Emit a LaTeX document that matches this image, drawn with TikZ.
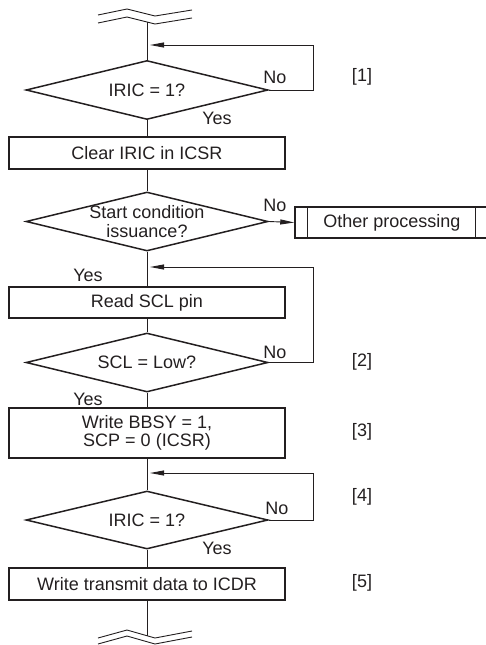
\documentclass[tikz,border=0pt]{standalone}
\usepackage{fontspec}
\setmainfont{Liberation Sans}
\usetikzlibrary{shapes.geometric,arrows.meta}
\definecolor{ink}{HTML}{231F20}
\tikzset{
  every node/.style={font=\fontsize{18}{18.5}\selectfont, text=ink},
  dec/.style={draw=ink, shape=diamond, line width=1.5pt, inner sep=0pt, minimum width=242pt, minimum height=59pt},
  proc/.style={draw=ink, rectangle, line width=1.5pt, inner sep=0pt, minimum width=276pt, align=center},
  conn/.style={draw=ink, line width=0.9pt},
  arr/.style={conn, -{Triangle[length=14pt,width=5pt]}},
  brk/.style={draw=ink, line width=0.9pt},
  lbl/.style={inner sep=0pt, align=center}
}
\begin{document}
\begin{tikzpicture}[x=1pt,y=-1pt]
\useasboundingbox (0,0) rectangle (486,645);
\clip (0,0) rectangle (486,645);
% break symbols
\draw[brk] (98,15) -- (127,9) -- (155,16) -- (192,10);
\draw[brk] (98,23) -- (127,17) -- (155,24) -- (192,18);
\draw[brk] (98,638) -- (127,630) -- (155,638) -- (192,631);
\draw[brk] (98,644) -- (127,636) -- (155,644) -- (192,637);
\coordinate (top) at (147,22);
\coordinate (bot) at (147,636);
% nodes
\node[dec] (d1) at (147,90) {};
\node[lbl] (t1) at (d1.center) {IRIC = 1?};
\node[proc, minimum height=32pt] (b1) at (147,153) {Clear IRIC in ICSR};
\node[dec] (d2) at (147,221.5) {};
\node[lbl] (t2) at (d2.center) {Start condition\\issuance?};
\node[draw=ink, line width=1.5pt, minimum width=200pt, minimum height=31pt, inner sep=0pt] (op) at (395,222.5) {};
\node[lbl] (optext) at (392,222.5) {Other processing};
\node[proc, minimum height=31pt] (b2) at (147,302.5) {Read SCL pin};
\node[dec] (d3) at (147,362.5) {};
\node[lbl] (t3) at (d3.center) {SCL = Low?};
\node[proc, minimum height=50pt] (b3) at (147,433) {Write BBSY = 1,\\SCP = 0 (ICSR)};
\node[dec, minimum height=58pt] (d4) at (147,520) {};
\node[lbl] (t4) at (d4.center) {IRIC = 1?};
\node[proc, minimum height=32pt] (b4) at (147,584) {Write transmit data to ICDR};
% inner lines of predefined process
\draw[draw=ink, line width=1.5pt] ([xshift=13pt]op.north west) -- ([xshift=13pt]op.south west);
\draw[draw=ink, line width=1.5pt] ([xshift=181pt]op.north west) -- ([xshift=181pt]op.south west);
% loop coordinates
\coordinate (l1) at (150,45);
\coordinate (l2) at (150,267);
\coordinate (l4) at (150,473);
% connectors
\draw[conn] (top) -- (d1.north);
\draw[conn] (d1.south) -- (b1.north);
\draw[conn] (b1.south) -- (d2.north);
\draw[conn] (d2.south) -- (b2.north);
\draw[conn] (b2.south) -- (d3.north);
\draw[conn] (d3.south) -- (b3.north);
\draw[conn] (b3.south) -- (d4.north);
\draw[conn] (d4.south) -- (b4.north);
\draw[conn] (b4.south) -- (bot);
\draw[arr] (d1.east) -- (313,90) -- (313,45) -- (l1);
\draw[arr] (d2.east) -- (op.west);
\draw[arr] (d3.east) -- (313,362.5) -- (313,267) -- (l2);
\draw[arr] (d4.east) -- (313,520) -- (313,473) -- (l4);
% labels
\node[lbl] (n1) at (275,77) {No};
\node[lbl] (y1) at (217,118) {Yes};
\node[lbl] (n2) at (275,205) {No};
\node[lbl] (y2) at (88,275) {Yes};
\node[lbl] (n3) at (275,352) {No};
\node[lbl] (y3) at (88,399) {Yes};
\node[lbl] (n4) at (277,508) {No};
\node[lbl] (y4) at (217,548) {Yes};
\node[lbl] (s1) at (362,77) {[1]};
\node[lbl] (s2) at (362,362) {[2]};
\node[lbl] (s3) at (362,432) {[3]};
\node[lbl] (s4) at (362,497) {[4]};
\node[lbl] (s5) at (362,583) {[5]};
\end{tikzpicture}
\end{document}
